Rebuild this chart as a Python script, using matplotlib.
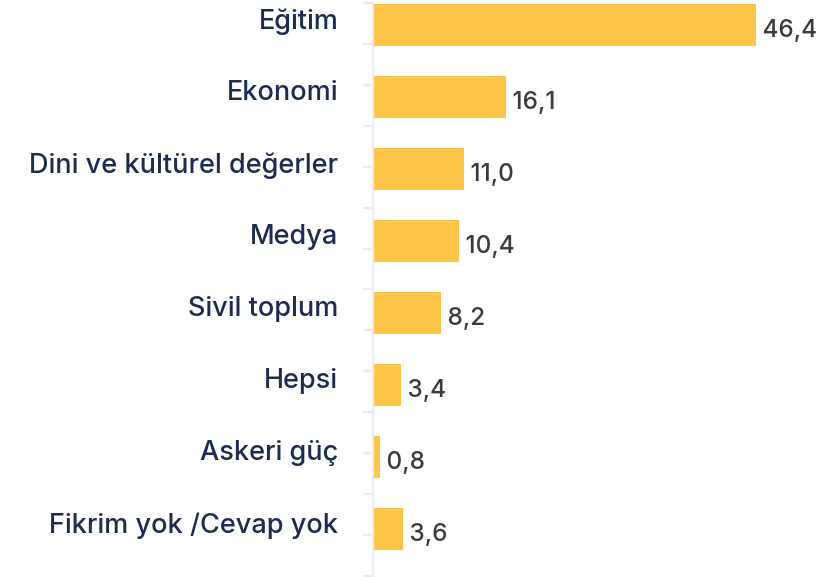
import numpy as np
import matplotlib
matplotlib.use("Agg")
import matplotlib.pyplot as plt

categories = ["Eğitim", "Ekonomi", "Dini ve kültürel değerler", "Medya",
              "Sivil toplum", "Hepsi", "Askeri güç", "Fikrim yok /Cevap yok"]
values = [46.4, 16.1, 11.0, 10.4, 8.2, 3.4, 0.8, 3.6]
value_labels = ["46,4", "16,1", "11,0", "10,4", "8,2", "3,4", "0,8", "3,6"]

BAR_COLOR = "#fdc648"
LABEL_COLOR = "#1c2b4f"
VALUE_COLOR = "#3b3b3b"
AXIS_COLOR = "#ececef"

plt.rcParams["font.family"] = ["Inter", "DejaVu Sans"]

fig = plt.figure(figsize=(8.18, 5.77), dpi=100)
ax = fig.add_axes([373 / 818, 1 / 577, 445 / 818, 573 / 577])

pos = np.arange(len(categories))
ax.barh(pos, values, height=0.583, color=BAR_COLOR, left=0)

ax.set_xlim(0, 53.9)
ax.set_ylim(7.653, -0.306)

for p, v, lab in zip(pos, values, value_labels):
    ax.text(v, p + 0.07, " " + lab, ha="left", va="center",
            fontsize=17.5, color=VALUE_COLOR, fontweight="medium")

for p, c in zip(pos, categories):
    ax.annotate(c, xy=(0, p - 0.05), xycoords=("axes fraction", "data"),
                xytext=(-25, 0), textcoords="offset points",
                ha="right", va="center", fontsize=19.5, color=LABEL_COLOR,
                fontweight="medium")

for s in ["top", "right", "bottom"]:
    ax.spines[s].set_visible(False)
ax.spines["left"].set_color(AXIS_COLOR)
ax.spines["left"].set_linewidth(1.6)
ax.set_xticks([])
ax.set_yticks(np.linspace(7.653, -0.306, 15))
ax.set_yticklabels([])
ax.tick_params(axis="y", length=7, width=1.6, color=AXIS_COLOR)
ax.patch.set_alpha(0)

fig.savefig("out.png", dpi=100)
